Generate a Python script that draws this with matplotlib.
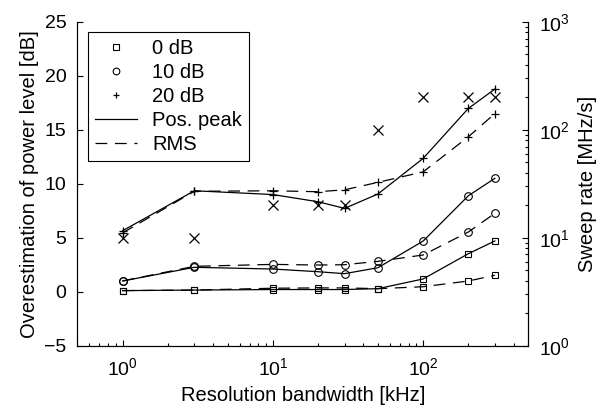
import matplotlib
matplotlib.use("Agg")
import matplotlib.pyplot as plt
from matplotlib.lines import Line2D
import numpy as np

plt.rcParams['font.family'] = ['Liberation Sans', 'DejaVu Sans']
plt.rcParams['mathtext.fontset'] = 'custom'
plt.rcParams['mathtext.rm'] = 'Liberation Sans'
plt.rcParams['lines.scale_dashes'] = False

# resolution bandwidth [kHz]
rbw = [1, 3, 10, 20, 30, 50, 100, 200, 300]

# overestimation [dB], positive peak detector
peak_0db = [0.1, 0.15, 0.2, 0.2, 0.2, 0.28, 1.18, 3.52, 4.7]
peak_10db = [0.99, 2.26, 2.1, 1.85, 1.67, 2.22, 4.69, 8.89, 10.5]
peak_20db = [5.65, 9.35, 9.0, 8.33, 7.72, 9.05, 12.35, 16.98, 18.77]

# overestimation [dB], RMS detector
rms_0db = [0.1, 0.15, 0.32, 0.35, 0.35, 0.28, 0.46, 0.99, 1.52]
rms_10db = [1.0, 2.35, 2.53, 2.47, 2.5, 2.81, 3.4, 5.53, 7.26]
rms_20db = [5.45, 9.3, 9.35, 9.26, 9.44, 10.13, 11.1, 14.35, 16.5]

# sweep rate [MHz/s]
sweep = [10, 10, 20, 20, 20, 100, 200, 200, 200]

fig = plt.figure(figsize=(6.05, 4.2), dpi=100)
ax = fig.add_axes([0.128, 0.177, 0.745, 0.771])

lw = 0.9
dash = (0, (8.5, 5.5))
sq = dict(marker='s', ms=4.2, mfc='none', mew=0.8)
ci = dict(marker='o', ms=5.5, mfc='none', mew=0.8)
pl = dict(marker='+', ms=6, mew=0.9)

ax.plot(rbw, peak_0db, color='k', lw=lw, **sq)
ax.plot(rbw, rms_0db, color='k', lw=lw, ls=dash, **sq)
ax.plot(rbw, peak_10db, color='k', lw=lw, **ci)
ax.plot(rbw, rms_10db, color='k', lw=lw, ls=dash, **ci)
ax.plot(rbw, peak_20db, color='k', lw=lw, **pl)
ax.plot(rbw, rms_20db, color='k', lw=lw, ls=dash, **pl)

ax.set_xscale('log')
ax.set_xlim(0.5, 500)
ax.set_ylim(-5, 25)
ax.set_yticks(np.arange(-5, 26, 5))
ax.set_xlabel('Resolution bandwidth [kHz]', fontsize=14.5, labelpad=5)
ax.set_ylabel('Overestimation of power level [dB]', fontsize=14.5, labelpad=4)
ax.tick_params(which='both', direction='in', labelsize=14, width=0.8)
ax.tick_params(which='major', length=4, pad=8)
ax.tick_params(which='minor', length=2.5)
ax.spines['top'].set_visible(False)
for s in ('left', 'bottom', 'right'):
    ax.spines[s].set_linewidth(0.8)

# sweep rate on a log axis to the right
ax2 = ax.twinx()
ax2.plot(rbw, sweep, ls='none', color='k', marker='x', ms=7, mew=0.9)
ax2.set_yscale('log')
ax2.set_ylim(1, 1000)
ax2.set_ylabel('Sweep rate [MHz/s]', fontsize=14.5, labelpad=6)
ax2.tick_params(which='both', direction='in', labelsize=14, width=0.8)
ax2.tick_params(which='major', length=4, pad=8)
ax2.tick_params(which='minor', length=2.5)
ax2.spines['top'].set_visible(False)
for s in ('left', 'bottom', 'right'):
    ax2.spines[s].set_linewidth(0.8)

handles = [
    Line2D([], [], ls='none', color='k', marker='s', ms=3.8, mfc='none', mew=0.8),
    Line2D([], [], ls='none', color='k', marker='o', ms=4.8, mfc='none', mew=0.8),
    Line2D([], [], ls='none', color='k', marker='+', ms=5, mew=0.9),
    Line2D([], [], color='k', lw=lw),
    Line2D([], [], color='k', lw=lw, ls=dash),
]
labels = ['0 dB', '10 dB', '20 dB', 'Pos. peak', 'RMS']
leg = ax2.legend(handles, labels, loc='upper left', bbox_to_anchor=(0.023, 0.968),
                 borderaxespad=0, fontsize=14.5, frameon=True, fancybox=False,
                 edgecolor='k', framealpha=1, handlelength=2.1, labelspacing=0.25,
                 handletextpad=0.75, borderpad=0.35)
leg.get_frame().set_linewidth(0.8)

fig.savefig('out.png', dpi=100)
